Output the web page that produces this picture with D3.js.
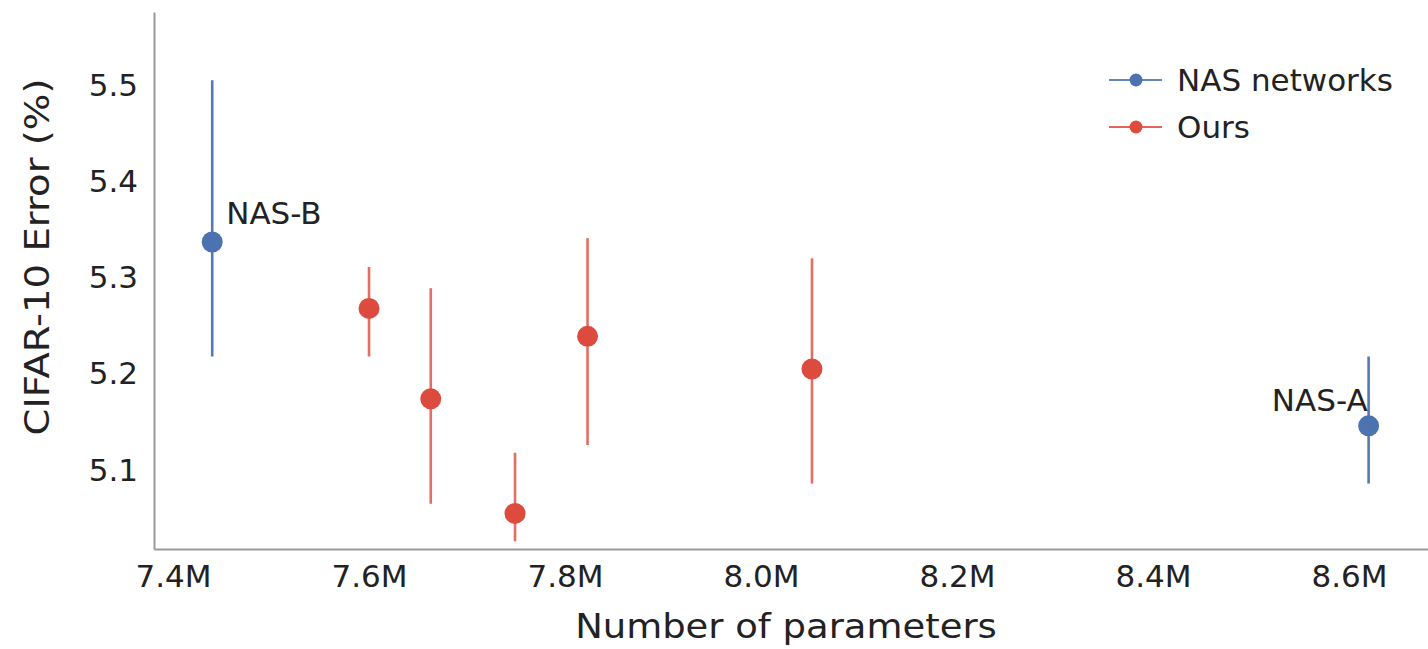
<!DOCTYPE html>
<html>
<head>
<meta charset="utf-8">
<script src="https://cdn.jsdelivr.net/npm/d3@7"></script>
<style>
  html, body { margin: 0; padding: 0; background: #fff; }
  svg text { font-family: "DejaVu Sans", Verdana, sans-serif; fill: #222; }
</style>
</head>
<body>
<svg id="chart" width="1428" height="649"></svg>
<script>
// data (params in millions, error in %)
const nasNames = ['NAS-B', 'NAS-A'];
const nasParams = [7.44, 8.62];
const nasError = [5.337, 5.146];
const nasLow = [5.218, 5.086];
const nasHigh = [5.505, 5.218];

const oursParams = [7.60, 7.663, 7.749, 7.823, 8.052];
const oursError = [5.268, 5.174, 5.055, 5.239, 5.205];
const oursLow = [5.218, 5.065, 5.026, 5.126, 5.086];
const oursHigh = [5.311, 5.289, 5.118, 5.341, 5.320];

const xTicks = [7.4, 7.6, 7.8, 8.0, 8.2, 8.4, 8.6];
const yTicks = [5.1, 5.2, 5.3, 5.4, 5.5];
const seriesNames = ['NAS networks', 'Ours'];

const blue = '#4c72b0',
    red = '#dd4a3e',
    axisColor = '#9a9a9a';

const svg = d3.select('svg#chart');
const plotLeft = 154, plotRight = 1428, plotTop = 12, plotBottom = 549;

const x = d3.scaleLinear().domain([7.3806, 8.6806]).range([plotLeft, plotRight]);
const y = d3.scaleLinear().domain([5.018, 5.576]).range([plotBottom, plotTop]);

// axes, no tick marks
const xAxis = svg.append('g')
    .attr('transform', `translate(0,${plotBottom})`)
    .call(d3.axisBottom(x).tickValues(xTicks).tickSize(0).tickPadding(16)
        .tickFormat(d => d.toFixed(1) + 'M'));
const yAxis = svg.append('g')
    .attr('transform', `translate(${plotLeft},0)`)
    .call(d3.axisLeft(y).tickValues(yTicks).tickSize(0).tickPadding(16)
        .tickFormat(d3.format('.1f')));

[xAxis, yAxis].forEach(g => {
    g.select('.domain').attr('stroke', axisColor).attr('stroke-width', 2);
    g.selectAll('text').style('font-family', '"DejaVu Sans", Verdana, sans-serif')
        .style('font-size', '31px').attr('fill', '#222');
});
xAxis.selectAll('text').attr('dy', '0.71em');

// axis titles (the reference font is a bit wider, so stretch horizontally)
svg.append('text')
    .text('Number of parameters')
    .attr('transform', 'translate(786,638) scale(1.12,1)')
    .attr('text-anchor', 'middle')
    .style('font-size', '33px');
svg.append('text')
    .text('CIFAR-10 Error (%)')
    .attr('transform', 'translate(49,257) rotate(-90) scale(1.17,1)')
    .attr('text-anchor', 'middle')
    .style('font-size', '33px');

// error bars + points
function drawSeries(params, err, lo, hi, color, lineOpacity) {
    params.forEach((p, i) => {
        svg.append('line')
            .attr('x1', x(p)).attr('x2', x(p))
            .attr('y1', y(lo[i])).attr('y2', y(hi[i]))
            .attr('stroke', color).attr('stroke-width', 2.6)
            .attr('opacity', lineOpacity);
        svg.append('circle')
            .attr('cx', x(p)).attr('cy', y(err[i]))
            .attr('r', 10.5).attr('fill', color);
    });
}
drawSeries(nasParams, nasError, nasLow, nasHigh, blue, 0.95);
drawSeries(oursParams, oursError, oursLow, oursHigh, red, 0.8);

// point labels
svg.append('text').text(nasNames[0])
    .attr('x', x(nasParams[0]) + 14).attr('y', y(nasError[0]) - 29)
    .attr('dy', '0.35em').style('font-size', '31px');
svg.append('text').text(nasNames[1])
    .attr('x', x(nasParams[1]) - 1).attr('y', y(nasError[1]) - 26)
    .attr('dy', '0.35em').attr('text-anchor', 'end').style('font-size', '31px');

// legend
const legendX = 1109, legendY = 80, legendGap = 47;
[blue, red].forEach((c, i) => {
    const ly = legendY + i * legendGap;
    svg.append('line')
        .attr('x1', legendX).attr('x2', legendX + 53)
        .attr('y1', ly).attr('y2', ly)
        .attr('stroke', c).attr('stroke-width', 2.2).attr('opacity', 0.85);
    svg.append('circle')
        .attr('cx', legendX + 27).attr('cy', ly).attr('r', 6.5).attr('fill', c);
    svg.append('text').text(seriesNames[i])
        .attr('x', legendX + 68).attr('y', ly).attr('dy', '0.35em')
        .style('font-size', '31px');
});
</script>
</body>
</html>
